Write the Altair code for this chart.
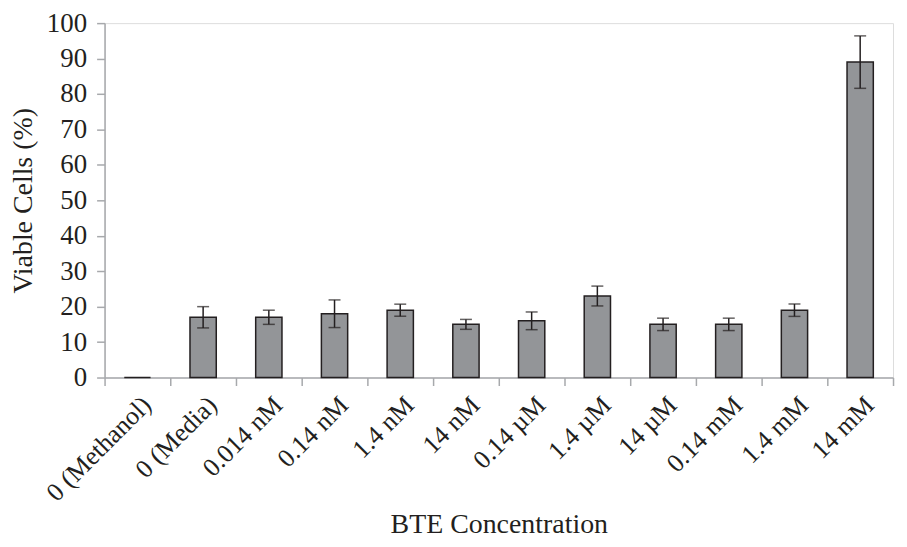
import altair as alt
import pandas as pd

categories = ["0 (Methanol)", "0 (Media)", "0.014 nM", "0.14 nM", "1.4 nM", "14 nM",
              "0.14 µM", "1.4 µM", "14 µM", "0.14 mM", "1.4 mM", "14 mM"]
values = [0, 17, 17, 18, 19, 15, 16, 23, 15, 15, 19, 89]
errors = [0, 3, 2, 3.9, 1.7, 1.4, 2.5, 2.8, 1.75, 1.75, 1.75, 7.4]
y_ticks = [0, 10, 20, 30, 40, 50, 60, 70, 80, 90, 100]

df = pd.DataFrame({"cat": categories, "val": values, "err": errors})
df["lo"] = df["val"] - df["err"]
df["hi"] = df["val"] + df["err"]
err_df = df[df["err"] > 0]

FONT = "Liberation Serif"
INK = "#231f20"
AXIS_GRAY = "#a7a9ac"

y_scale = alt.Scale(domain=[0, 100], nice=False)
x_scale = alt.Scale(paddingInner=0, paddingOuter=0)

x_axis = alt.Axis(
    title="BTE Concentration",
    labelAngle=-45,
    labelFont=FONT,
    labelFontSize=26,
    labelColor=INK,
    labelPadding=6,
    labelOverlap=False,
    tickBand="extent",
    tickSize=8,
    tickColor=AXIS_GRAY,
    tickWidth=1.5,
    domainColor=AXIS_GRAY,
    domainWidth=1.5,
    titleFont=FONT,
    titleFontSize=28,
    titleFontWeight="normal",
    titleColor=INK,
    titleY=156,
    titleBaseline="alphabetic",
)

y_axis = alt.Axis(
    title="Viable Cells (%)",
    values=y_ticks,
    grid=False,
    labelOverlap=False,
    labelFont=FONT,
    labelFontSize=27,
    labelColor=INK,
    labelPadding=10,
    tickSize=8,
    tickColor=AXIS_GRAY,
    tickWidth=1.5,
    domainColor=AXIS_GRAY,
    domainWidth=1.5,
    titleFont=FONT,
    titleFontSize=28,
    titleFontWeight="normal",
    titleColor=INK,
    titleX=-81,
    titleY=178,
    titleAlign="center",
    titleBaseline="middle",
    titleAngle=-90,
)


def xe():
    return alt.X("cat:N", sort=categories, scale=x_scale, axis=x_axis)


def ye(field):
    return alt.Y(field, type="quantitative", scale=y_scale, axis=y_axis)


bars = alt.Chart(df).mark_bar(
    width=alt.RelativeBandSize(0.4), color="#939598", stroke=INK, strokeWidth=1.5
).encode(x=xe(), y=ye("val"))

rules = alt.Chart(err_df).mark_rule(color=INK, strokeWidth=1.5).encode(
    x=xe(), y=ye("lo"), y2="hi:Q"
)
caps_lo = alt.Chart(err_df).mark_tick(color=INK, thickness=1.5, size=12).encode(
    x=xe(), y=ye("lo")
)
caps_hi = alt.Chart(err_df).mark_tick(color=INK, thickness=1.5, size=12).encode(
    x=xe(), y=ye("hi")
)

chart = (
    alt.layer(bars, rules, caps_lo, caps_hi)
    .properties(
        width=792,
        height=356,
        padding={"left": 97, "top": 14, "right": 6, "bottom": 160},
        autosize=alt.AutoSizeParams(type="none"),
    )
    .configure_view(strokeWidth=0)
    .configure(background="white")
)

chart.save("out.html", embed_options={"renderer": "svg", "actions": False})
